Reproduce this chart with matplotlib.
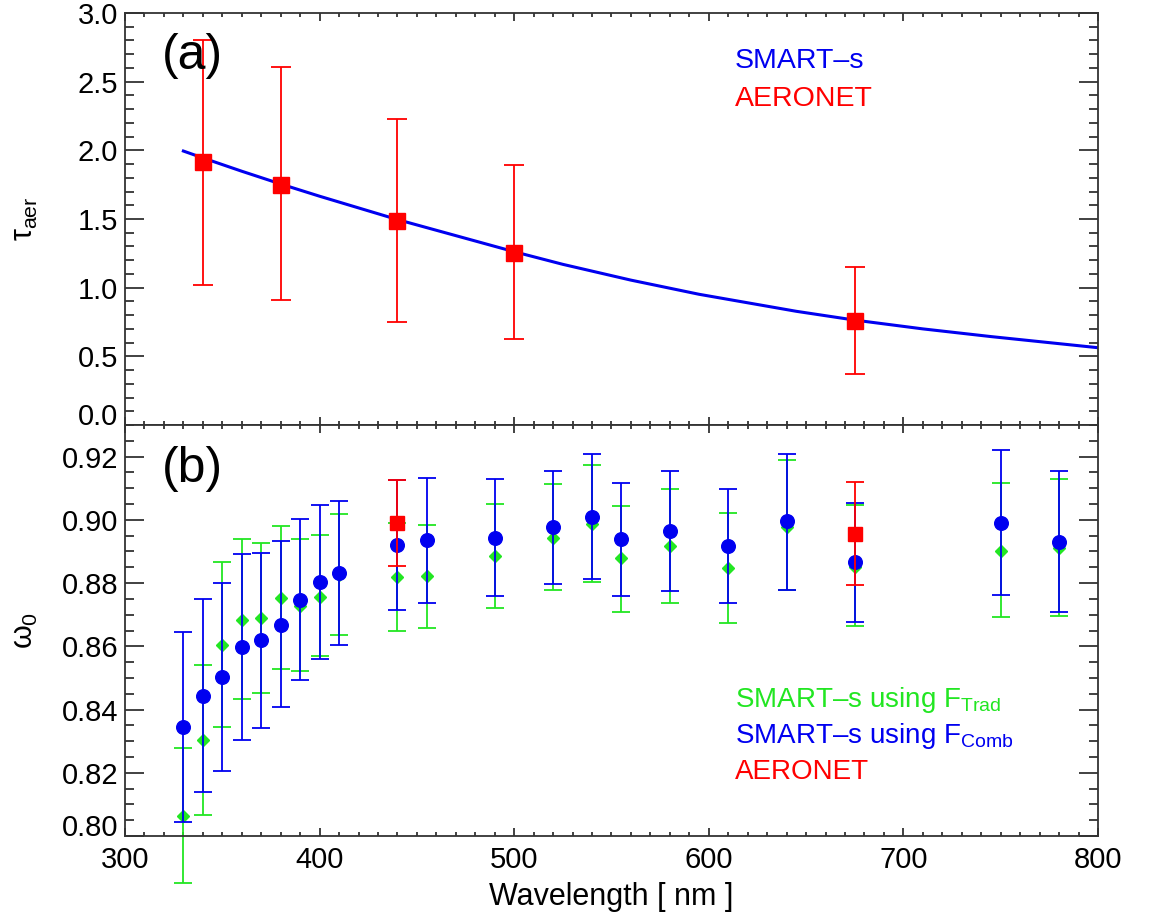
import matplotlib
matplotlib.use("Agg")
import numpy as np
import matplotlib.pyplot as plt
from matplotlib.ticker import MultipleLocator, FormatStrFormatter

plt.rcParams["font.family"] = ["Liberation Sans", "DejaVu Sans"]
plt.rcParams["mathtext.fontset"] = "custom"
plt.rcParams["mathtext.rm"] = "Liberation Sans"
plt.rcParams["mathtext.it"] = "Liberation Sans"

GREEN = "#22e622"
BLUE = "#0000f0"
RED = "#ff0000"

# (a) aerosol optical depth
smart_wl = [330, 340, 360, 380, 400, 440, 500, 525, 560, 595, 645, 675, 710, 745, 800]
smart_aod = [1.995, 1.945, 1.848, 1.755, 1.666, 1.496, 1.262, 1.170, 1.055, 0.952, 0.828,
             0.764, 0.700, 0.644, 0.563]

aer_wl = [340, 380, 440, 500, 675]
aer_aod = [1.915, 1.750, 1.489, 1.256, 0.761]
aer_aod_hi = [2.805, 2.604, 2.230, 1.891, 1.149]
aer_aod_lo = [1.023, 0.907, 0.749, 0.623, 0.373]

# (b) single scattering albedo
ssa_wl = [330, 340, 350, 360, 370, 380, 390, 400, 410, 440, 455,
          490, 520, 540, 555, 580, 610, 640, 675, 750, 780]
comb = [0.8345, 0.8444, 0.8503, 0.8597, 0.8619, 0.8669, 0.8748, 0.8804, 0.8833, 0.8921, 0.8935,
        0.8943, 0.8977, 0.9009, 0.8938, 0.8965, 0.8917, 0.8995, 0.8866, 0.8991, 0.8931]
comb_hi = [0.8645, 0.8749, 0.8801, 0.8893, 0.8896, 0.8932, 0.9002, 0.9048, 0.9061, 0.9125, 0.9131,
           0.9129, 0.9156, 0.9208, 0.9117, 0.9155, 0.9098, 0.9208, 0.9052, 0.9220, 0.9153]
comb_lo = [0.8045, 0.8138, 0.8206, 0.8305, 0.8343, 0.8408, 0.8495, 0.8561, 0.8605, 0.8714, 0.8737,
           0.8758, 0.8796, 0.8812, 0.8758, 0.8775, 0.8737, 0.8779, 0.8678, 0.8761, 0.8708]
trad = [0.8064, 0.8303, 0.8604, 0.8684, 0.8691, 0.8754, 0.8729, 0.8756, 0.8827, 0.8819, 0.8821,
        0.8886, 0.8943, 0.8987, 0.8878, 0.8918, 0.8848, 0.8979, 0.8850, 0.8903, 0.8912]
trad_hi = [0.8277, 0.8540, 0.8866, 0.8940, 0.8926, 0.8980, 0.8938, 0.8953, 0.9018, 0.8989, 0.8983,
           0.9051, 0.9114, 0.9175, 0.9043, 0.9099, 0.9021, 0.9190, 0.9046, 0.9116, 0.9130]
trad_lo = [0.7853, 0.8066, 0.8344, 0.8432, 0.8453, 0.8529, 0.8522, 0.8570, 0.8636, 0.8650, 0.8659,
           0.8721, 0.8779, 0.8802, 0.8710, 0.8738, 0.8674, 0.8777, 0.8665, 0.8692, 0.8697]

aer_ssa_wl = [440, 675]
aer_ssa = [0.8989, 0.8956]
aer_ssa_hi = [0.9127, 0.9120]
aer_ssa_lo = [0.8853, 0.8793]


def errs(val, lo, hi):
    val, lo, hi = np.asarray(val), np.asarray(lo), np.asarray(hi)
    return [val - lo, hi - val]


def style_axis(ax):
    ax.tick_params(which="both", direction="in", top=True, right=True,
                   labelsize=21, width=1.3, color="#333333")
    ax.tick_params(axis="y", which="major", length=13.5, pad=5)
    ax.tick_params(axis="y", which="minor", length=6.5)
    ax.tick_params(axis="x", which="major", length=6, pad=7)
    ax.tick_params(axis="x", which="minor", length=3)
    ax.xaxis.set_major_locator(MultipleLocator(100))
    ax.xaxis.set_minor_locator(MultipleLocator(10))
    ax.set_xlim(300, 800)
    for s in ax.spines.values():
        s.set_linewidth(1.3)
        s.set_color("#333333")


fig = plt.figure(figsize=(11.52, 9.16), dpi=100)
ax1 = fig.add_axes([0.1085, 0.536, 0.8446, 0.4498])
ax2 = fig.add_axes([0.1085, 0.0873, 0.8446, 0.4487])

# panel (a)
ax1.plot(smart_wl, smart_aod, color=BLUE, lw=2.2, zorder=2)
ax1.errorbar(aer_wl, aer_aod, yerr=errs(aer_aod, aer_aod_lo, aer_aod_hi),
             fmt="s", color=RED, ms=11.5, elinewidth=1.3, capsize=7, capthick=1.3, zorder=3)
ax1.set_ylim(0, 3.0)
ax1.yaxis.set_major_locator(MultipleLocator(0.5))
ax1.yaxis.set_minor_locator(MultipleLocator(0.1))
ax1.yaxis.set_major_formatter(FormatStrFormatter("%.1f"))
style_axis(ax1)
ax1.tick_params(axis="x", labelbottom=False)
ax1.set_ylabel(r"$\tau_{\rm aer}$", fontsize=22)
ax1.yaxis.set_label_coords(-0.087, 0.5)
ax1.text(0.038, 0.896, "(a)", transform=ax1.transAxes, fontsize=36, va="center")
ax1.text(0.627, 0.866, "SMART\u2013s", transform=ax1.transAxes, fontsize=20.5,
         color=BLUE, va="baseline")
ax1.text(0.627, 0.774, "AERONET", transform=ax1.transAxes, fontsize=20.5,
         color=RED, va="baseline")

# panel (b)
ax2.errorbar(ssa_wl, trad, yerr=errs(trad, trad_lo, trad_hi), fmt="D", color=GREEN,
             ms=6.5, elinewidth=1.3, capsize=6.5, capthick=1.3, zorder=2, clip_on=False)
ax2.errorbar(ssa_wl, comb, yerr=errs(comb, comb_lo, comb_hi), fmt="o", color=BLUE,
             ms=9.8, elinewidth=1.3, capsize=6.5, capthick=1.3, zorder=3)
ax2.errorbar(aer_ssa_wl, aer_ssa, yerr=errs(aer_ssa, aer_ssa_lo, aer_ssa_hi), fmt="s",
             color=RED, ms=10.5, elinewidth=1.3, capsize=6.5, capthick=1.3, zorder=4)
ax2.set_ylim(0.80, 0.93)
ax2.yaxis.set_major_locator(MultipleLocator(0.02))
ax2.yaxis.set_minor_locator(MultipleLocator(0.005))
ax2.yaxis.set_major_formatter(FormatStrFormatter("%.2f"))
style_axis(ax2)
ax2.set_ylabel(r"$\omega_0$", fontsize=22)
ax2.yaxis.set_label_coords(-0.087, 0.5)
ax2.set_xlabel("Wavelength [ nm ]", fontsize=22)
ax2.xaxis.set_label_coords(0.5, -0.112)
ax2.text(0.038, 0.893, "(b)", transform=ax2.transAxes, fontsize=36, va="center")
ax2.text(0.627, 0.315, "SMART\u2013s using F$_{\\rm Trad}$",
         transform=ax2.transAxes, fontsize=20, color=GREEN, va="baseline")
ax2.text(0.627, 0.2255, "SMART\u2013s using F$_{\\rm Comb}$",
         transform=ax2.transAxes, fontsize=20, color=BLUE, va="baseline")
ax2.text(0.627, 0.138, "AERONET", transform=ax2.transAxes, fontsize=20,
         color=RED, va="baseline")

fig.canvas.draw()
# lift the lowest y labels so they sit above the axis line
for ax, txt in ((ax1, "0.0"), (ax2, "0.80")):
    for lab in ax.get_yticklabels():
        if lab.get_text() == txt:
            lab.set_va("baseline")

fig.savefig("out.png", dpi=100)
